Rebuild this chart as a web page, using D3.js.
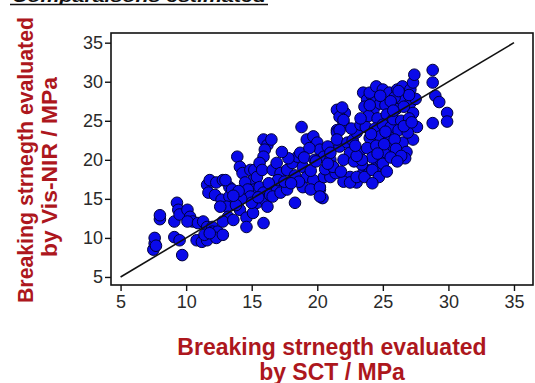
<!DOCTYPE html>
<html lang="en">
<head>
    <meta charset="UTF-8">
    <title>Breaking strength</title>
    <style>
        body{ margin:0; background:#fff; }
        svg{ display:block; }
        text{ font-family: "Liberation Sans", Arial, sans-serif; }
        .tick text{ fill:#2a2a2a; font-size:18px; }
        .axisTitle{ fill:#ad171d; font-weight:bold; }
    </style>
    <script src="https://cdn.jsdelivr.net/npm/d3@7"></script>
</head>
<body>
<script>
    const width = 535
    const height = 383

    // tick labels
    const xTicks = [5,10,15,20,25,30,35]
    const yTicks = [5,10,15,20,25,30,35]

    // breaking strength by SCT (x) and by Vis-NIR (y), MPa
    const sctMPa = [
        7.5,7.6,7.6,7.7,8.0,8.0,9.3,9.4,9.1,9.1,9.5,9.7,9.5,10.1,10.3,10.5,10.1,
        10.9,11.3,11.6,12.0,12.0,12.4,10.8,11.2,11.6,12.3,12.8,11.4,11.8,
        11.6,11.8,12.3,12.8,13.3,11.7,12.2,12.7,13.3,13.1,12.6,13.2,12.8,13.6,14.1,
        14.6,14.6,15.9,13.0,13.5,13.9,
        14.1,14.3,14.9,15.1,15.2,15.4,15.1,14.5,14.7,14.9,15.0,14.2,13.8,
        15.2,15.4,15.6,15.9,16.0,16.2,15.5,16.4,
        15.9,16.2,16.5,16.0,15.9,15.6,15.8,
        16.6,16.9,17.2,16.9,16.6,17.2,17.7,17.0,17.5,
        17.7,18.1,18.5,18.7,18.3,17.8,18.8,18.3,
        18.9,19.2,18.9,19.7,20.2,20.4,19.5,18.6,
        19.2,19.7,20.0,20.2,20.5,19.4,19.0,19.8,
        21.0,21.2,21.5,21.5,20.8,21.0,21.7,21.5,22.0,22.1,21.7,
        20.2,20.2,20.5,21.0,20.6,21.4,
        21.9,22.0,21.7,21.5,22.3,22.5,22.0,21.2,
        22.5,23.0,23.5,24.0,24.5,24.8,25.3,25.8,
        22.0,22.5,23.0,23.6,24.2,23.4,
        22.8,23.2,22.7,23.0,22.6,23.3,
        23.5,23.8,24.2,24.0,24.5,25.0,25.5,
        23.6,24.3,24.8,25.2,23.9,24.6,25.3,
        23.7,24.4,25.0,25.6,24.0,24.8,25.5,
        23.8,24.5,25.1,24.2,25.0,24.7,24.2,25.3,23.4,23.0,
        26.1,26.5,27.1,27.3,27.4,
        26.3,27.1,27.3,27.6,27.3,26.5,26.8,26.7,
        25.9,26.0,26.6,25.8,26.4,27.0,26.2,26.9,25.9,26.0,26.4,27.5,27.0,
        28.8,28.8,29.0,29.3,29.9,29.9,28.8,
        24.0,24.8,25.6,26.2,23.3,24.1,25.2,25.8,26.6,27.2,24.6,25.6,26.1,
        18.0,19.5,20.8,21.8,17.3,16.3,14.0,19.9,22.9,13.6
    ]
    const visNirMPa = [
        8.5,9.3,10.0,9.0,12.4,12.9,14.5,13.6,12.1,10.1,9.7,7.8,13.0,13.6,12.7,12.1,12.1,
        11.9,12.1,11.4,11.4,10.8,10.8,9.7,9.5,9.7,10.0,10.4,10.4,10.6,
        16.8,17.4,17.1,17.4,16.5,15.8,15.5,14.9,15.3,14.0,14.0,12.7,12.1,12.3,13.6,
        12.6,11.4,11.9,17.4,16.2,20.4,
        19.1,18.3,18.7,17.4,16.2,14.5,13.2,17.1,16.2,15.3,14.5,15.0,14.2,
        18.7,17.8,16.5,15.8,14.9,14.0,15.2,15.5,
        22.6,21.9,22.6,21.3,20.4,19.6,18.7,
        18.7,19.6,18.3,16.5,15.3,15.8,16.2,17.4,17.2,
        18.7,19.6,20.4,20.9,18.0,20.2,24.2,14.5,
        19.1,17.8,16.5,17.4,16.2,15.1,16.2,17.2,
        22.6,23.0,22.2,21.3,20.4,21.5,20.3,20.0,
        20.0,19.1,23.8,26.4,21.7,20.9,21.7,23.5,24.7,26.0,25.5,
        16.5,15.3,17.8,17.8,18.8,18.3,
        26.7,25.1,23.8,22.6,22.2,20.9,20.0,19.1,
        17.8,17.1,18.3,18.7,19.1,20.0,20.9,21.7,
        17.2,17.1,17.8,17.8,18.7,19.4,
        19.8,21.0,22.5,23.5,24.0,24.5,
        28.6,27.7,28.1,28.6,29.4,29.0,28.6,
        26.8,26.5,27.2,27.0,25.6,25.3,25.8,
        24.2,24.0,24.5,24.2,22.8,23.0,22.9,
        21.5,21.8,22.0,20.3,19.5,17.8,17.0,18.5,20.0,20.5,
        29.0,29.4,29.0,29.9,30.9,
        27.7,27.3,26.0,24.2,22.6,22.2,21.0,20.2,
        28.0,26.5,26.8,25.2,25.0,25.3,23.8,23.5,22.6,21.4,20.5,27.8,28.3,
        31.5,29.9,28.2,27.4,26.0,24.9,24.7,
        27.0,28.2,27.5,28.8,25.3,23.3,23.6,26.3,24.3,24.8,20.8,20.3,19.8,
        17.0,18.6,19.5,18.5,21.0,17.0,16.0,19.8,21.8,15.4
    ]
    const samples = sctMPa.map((x,i)=>({x:x, y:visNirMPa[i]}))
    const identityLine = [5,35]

    let svg = d3.select("body").append("svg")
        .attr("width",width).attr("height",height)

    const plot = {left:111, top:33, right:533, bottom:285}

    const xScale = d3.scaleLinear().domain([4.27,36.45]).range([plot.left,plot.right])
    const yScale = d3.scaleLinear().domain([3.97,36.24]).range([plot.bottom,plot.top])

    // cut-off heading at the very top
    svg.append("text")
        .attr("x",12).attr("y",2)
        .attr("font-style","italic").attr("font-weight","bold")
        .attr("font-size","17px").attr("fill","#111")
        .attr("textLength",254).attr("lengthAdjust","spacingAndGlyphs")
        .text("Comparaisons estimated")
    svg.append("line")
        .attr("x1",10).attr("x2",268).attr("y1",4.5).attr("y2",4.5)
        .attr("stroke","#111").attr("stroke-width",1.6)

    let gCanvas = svg.append("g")

    //points
    gCanvas.selectAll(".pt")
        .data(samples)
        .enter()
        .append("circle")
        .attr("cx",d=>xScale(d.x))
        .attr("cy",d=>yScale(d.y))
        .attr("r",5.8)
        .attr("fill","#0a0aea")
        .attr("stroke","#00003a")
        .attr("stroke-width",1)

    //1:1 line
    gCanvas.append("line")
        .attr("x1",xScale(identityLine[0])).attr("y1",yScale(identityLine[0]))
        .attr("x2",xScale(identityLine[1])).attr("y2",yScale(identityLine[1]))
        .attr("stroke","#111").attr("stroke-width",1.6)

    //frame
    svg.append("rect")
        .attr("x",plot.left).attr("y",plot.top)
        .attr("width",plot.right-plot.left).attr("height",plot.bottom-plot.top)
        .attr("fill","none").attr("stroke","#111").attr("stroke-width",1.6)

    //axes
    const xAxis = svg.append("g")
        .attr("transform",`translate(0,${plot.bottom})`)
        .call(d3.axisBottom(xScale).tickValues(xTicks).tickSize(6).tickPadding(4))
    const yAxis = svg.append("g")
        .attr("transform",`translate(${plot.left},0)`)
        .call(d3.axisLeft(yScale).tickValues(yTicks).tickSize(6).tickPadding(2))
    ;[xAxis,yAxis].forEach(a=>{
        a.select(".domain").remove()
        a.selectAll(".tick line").attr("stroke","#111").attr("stroke-width",1.4)
        a.selectAll(".tick text").attr("font-family",null).attr("font-size",null)
    })
    xAxis.selectAll(".tick text").attr("font-size","19px")

    //axis titles
    const xt = svg.append("text").attr("class","axisTitle")
        .attr("text-anchor","middle").attr("font-size","23px")
    xt.append("tspan").attr("x",332).attr("y",355).text("Breaking strnegth evaluated")
    xt.append("tspan").attr("x",332).attr("y",380).text("by SCT / MPa")

    const yt = svg.append("g").attr("transform","rotate(-90)")
    yt.append("text").attr("class","axisTitle")
        .attr("text-anchor","middle").attr("font-size","21.5px")
        .attr("x",-160).attr("y",33)
        .attr("textLength",286).attr("lengthAdjust","spacingAndGlyphs")
        .text("Breaking strnegth evaluated")
    yt.append("text").attr("class","axisTitle")
        .attr("text-anchor","middle").attr("font-size","21.5px")
        .attr("x",-167).attr("y",57)
        .attr("textLength",180).attr("lengthAdjust","spacingAndGlyphs")
        .text("by Vis-NIR / MPa")
</script>
</body>
</html>
